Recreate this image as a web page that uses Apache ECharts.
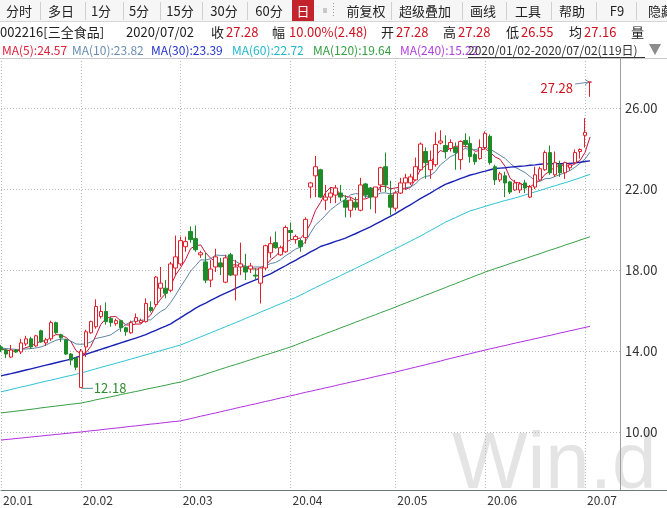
<!DOCTYPE html>
<html><head><meta charset="utf-8">
<script src="https://cdn.jsdelivr.net/npm/echarts@6/dist/echarts.min.js"></script>
<style>html,body{margin:0;padding:0;background:#fff;overflow:hidden}#c{width:667px;height:508px}</style>
</head><body><div id="c"></div>
<script>
// ---------------- data ----------------
const tradeDays = {
  '01': [2,3,6,7,8,9,10,13,14,15,16,17,20,21,22,23],
  '02': [3,4,5,6,7,10,11,12,13,14,17,18,19,20,21,24,25,26,27,28],
  '03': [2,3,4,5,6,9,10,11,12,13,16,17,18,19,20,23,24,25,26,27,30,31],
  '04': [1,2,3,7,8,9,10,13,14,15,16,17,20,21,22,23,24,27,28,29,30],
  '05': [6,7,8,11,12,13,14,15,18,19,20,21,22,25,26,27,28,29],
  '06': [1,2,3,4,5,8,9,10,11,12,15,16,17,18,19,22,23,24,29,30],
  '07': [1,2]
};
const openP = [14.2,14.05,13.7,14.05,13.95,14.35,14.6,14.25,15.0,14.4,14.6,15.4,14.8,14.55,13.85,13.65,12.2,14.2,14.9,15.2,
  15.7,15.95,15.6,15.35,15.5,15.15,14.9,15.45,15.4,15.45,16.15,16.3,17.1,17.1,17.0,18.1,18.3,19.15,19.9,19.55,
  18.75,18.4,17.5,18.15,18.35,17.4,18.75,17.75,18.15,18.15,18.05,17.75,17.35,18.1,18.85,19.35,18.75,18.9,19.95,19.5,
  19.45,19.6,22.1,22.65,22.95,21.45,21.6,21.7,21.8,21.45,20.95,21.35,20.95,22.25,22.05,21.6,22.2,23.1,21.7,21.05,
  21.8,22.3,22.3,22.45,22.95,23.85,22.95,23.2,24.27,24.15,24.0,24.05,23.45,24.4,24.25,23.7,23.5,24.05,24.6,23.1,
  22.45,22.65,22.35,21.95,21.95,22.3,21.6,22.1,22.45,22.95,23.8,22.7,23.2,22.8,23.05,23.3,23.85,24.65,27.28];
const closeP = [14.05,13.85,14.05,13.95,14.4,14.6,14.2,14.75,14.45,14.55,15.4,14.9,14.65,13.85,13.55,13.2,14.0,14.95,15.45,16.2,
  15.95,15.45,15.4,15.5,15.15,14.95,15.4,15.65,15.5,16.35,16.0,17.65,17.35,16.85,18.3,18.65,19.45,19.4,19.5,19.0,
  18.85,17.5,18.05,18.65,18.15,18.6,17.75,18.15,18.3,17.9,18.2,17.7,18.1,19.2,19.3,19.1,19.1,20.1,19.85,19.65,
  19.15,20.5,22.3,23.1,21.6,21.6,21.8,22.05,21.6,21.1,21.45,21.1,22.2,21.7,21.6,22.1,23.05,22.2,21.1,21.8,
  22.3,22.55,22.6,23.1,24.22,23.3,23.4,24.2,24.37,23.85,24.3,23.8,24.35,24.2,23.6,23.35,24.05,24.75,23.3,22.45,
  22.75,22.3,21.85,22.3,22.25,22.05,22.1,22.7,23.0,23.8,22.8,23.3,22.8,23.3,23.2,23.8,23.95,24.8,27.28];
const lowP = [13.95,13.65,13.65,13.9,13.85,14.25,14.1,14.2,14.4,14.25,14.5,14.85,14.45,13.8,13.3,13.05,12.18,13.7,14.85,15.1,
  15.6,15.3,15.2,15.25,14.95,14.75,14.85,15.35,15.35,15.4,15.9,16.2,16.65,16.6,16.9,17.75,18.2,18.9,19.35,18.9,
  18.6,17.35,17.15,17.9,17.75,17.35,17.7,16.5,17.75,17.5,17.85,17.55,16.35,18.0,18.6,19.05,18.7,18.85,19.5,19.3,
  18.9,19.3,21.55,21.6,21.55,20.96,21.3,21.3,21.4,20.6,20.6,20.95,20.9,21.55,21.0,20.8,21.85,21.85,20.7,20.9,
  21.75,21.95,22.2,22.4,22.9,22.5,22.5,23.1,24.2,23.5,23.85,22.95,22.95,24.05,23.3,23.2,23.45,23.95,23.2,22.2,
  22.35,21.6,21.75,21.9,21.8,21.8,21.55,22.0,22.4,22.9,22.7,22.6,22.6,22.5,22.9,23.2,23.5,24.05,26.55];
const highP = [14.3,14.1,14.3,14.1,14.6,14.75,14.7,14.8,15.05,14.65,15.5,15.45,14.85,14.6,13.9,13.7,14.1,15.05,15.5,16.55,
  16.25,16.4,15.7,15.6,15.55,15.2,15.5,15.85,15.6,16.6,16.45,17.7,18.15,17.5,18.4,19.7,19.65,19.65,20.15,20.2,
  18.95,18.85,18.5,19.05,18.6,18.75,18.85,18.5,19.35,18.8,18.35,18.1,18.15,19.25,19.65,19.9,19.2,20.2,20.35,19.75,
  19.55,20.6,22.35,23.63,23.0,22.2,22.1,22.2,22.2,21.7,21.6,21.6,22.55,22.3,22.1,22.1,23.1,23.8,22.4,21.9,
  22.55,22.75,22.75,23.55,24.3,24.05,23.9,24.8,24.9,24.65,24.45,24.3,24.4,24.75,24.6,23.8,24.45,24.85,24.7,23.2,
  22.85,22.85,22.4,22.45,22.35,22.45,22.2,23.1,23.1,23.9,24.15,23.85,23.4,23.35,23.3,23.95,24.0,25.5,27.28];
const ma5 = [14.1,14.05,14.0,14.0,14.06,14.17,14.24,14.38,14.48,14.51,14.67,14.81,14.79,14.67,14.47,14.03,13.85,13.91,14.23,14.76,
  15.31,15.6,15.69,15.7,15.49,15.29,15.28,15.33,15.33,15.57,15.78,16.23,16.57,16.84,17.23,17.76,18.12,18.53,19.06,19.2,
  19.24,18.85,18.58,18.41,18.24,18.19,18.24,18.26,18.19,18.14,18.06,18.05,18.04,18.22,18.5,18.68,18.96,19.36,19.49,19.56,
  19.57,19.85,20.29,20.94,21.33,21.82,22.08,22.03,21.73,21.63,21.6,21.46,21.49,21.51,21.61,21.74,22.13,22.13,22.01,22.05,
  22.09,21.99,22.07,22.47,22.95,23.15,23.32,23.64,23.9,23.82,24.02,24.1,24.13,24.1,24.05,23.86,23.91,23.99,23.81,23.58,
  23.46,23.11,22.53,22.33,22.29,22.15,22.11,22.28,22.42,22.73,22.88,23.12,23.14,23.2,23.08,23.28,23.41,23.81,24.57];
const ma10 = [14.15,14.12,14.1,14.08,14.08,14.1,14.12,14.15,14.2,14.29,14.42,14.53,14.59,14.58,14.49,14.35,14.33,14.35,14.45,14.62,
  14.67,14.73,14.8,14.97,15.13,15.3,15.44,15.51,15.52,15.53,15.54,15.76,15.95,16.09,16.4,16.77,17.18,17.55,17.95,18.22,
  18.5,18.49,18.56,18.74,18.72,18.72,18.55,18.42,18.3,18.19,18.13,18.15,18.15,18.21,18.32,18.37,18.51,18.7,18.86,19.03,
  19.13,19.41,19.83,20.22,20.45,20.7,20.97,21.16,21.34,21.48,21.71,21.77,21.76,21.62,21.62,21.67,21.8,21.81,21.76,21.83,
  21.92,22.06,22.1,22.24,22.5,22.62,22.66,22.86,23.19,23.39,23.59,23.71,23.89,24.0,23.94,23.94,24.01,24.06,23.96,23.82,
  23.66,23.51,23.26,23.07,22.94,22.81,22.61,22.41,22.38,22.51,22.52,22.62,22.71,22.81,22.91,23.08,23.27,23.48,23.82];
const ma30 = [12.77,12.83,12.88,12.94,13.0,13.06,13.12,13.18,13.24,13.3,13.36,13.42,13.48,13.54,13.6,13.68,13.76,13.84,13.92,14.0,
  14.08,14.16,14.24,14.32,14.4,14.48,14.56,14.64,14.72,14.81,14.92,15.02,15.13,15.23,15.34,15.5,15.65,15.81,15.96,16.12,
  16.25,16.37,16.5,16.62,16.75,16.86,16.97,17.09,17.2,17.31,17.41,17.51,17.61,17.71,17.81,17.94,18.08,18.21,18.35,18.48,
  18.62,18.75,18.89,19.02,19.16,19.24,19.32,19.41,19.49,19.57,19.68,19.79,19.91,20.02,20.13,20.26,20.39,20.52,20.65,20.78,
  20.93,21.08,21.22,21.37,21.52,21.66,21.8,21.95,22.09,22.23,22.32,22.41,22.51,22.6,22.69,22.75,22.82,22.88,22.95,23.01,
  23.03,23.05,23.08,23.1,23.12,23.14,23.17,23.19,23.22,23.24,23.24,23.25,23.25,23.26,23.26,23.29,23.32,23.36,23.39];
const ma60 = [11.98,12.04,12.1,12.16,12.22,12.27,12.33,12.39,12.45,12.51,12.56,12.62,12.68,12.74,12.79,12.85,12.91,12.98,13.05,13.12,
  13.19,13.26,13.32,13.39,13.46,13.53,13.6,13.67,13.74,13.81,13.88,13.95,14.02,14.09,14.16,14.23,14.3,14.4,14.5,14.6,
  14.7,14.8,14.9,15.0,15.1,15.2,15.3,15.4,15.5,15.61,15.71,15.81,15.92,16.02,16.12,16.23,16.33,16.43,16.54,16.64,
  16.76,16.88,17.01,17.13,17.25,17.37,17.49,17.6,17.72,17.84,17.96,18.08,18.2,18.32,18.44,18.56,18.68,18.81,18.93,19.05,
  19.17,19.3,19.42,19.55,19.67,19.81,19.95,20.08,20.22,20.36,20.47,20.58,20.7,20.81,20.92,20.99,21.07,21.14,21.22,21.29,
  21.36,21.43,21.49,21.56,21.63,21.71,21.78,21.86,21.93,22.01,22.09,22.16,22.24,22.31,22.39,22.47,22.55,22.64,22.72];
const ma120 = [10.94,10.97,11.0,11.03,11.06,11.09,11.12,11.15,11.19,11.22,11.25,11.28,11.31,11.34,11.37,11.4,11.43,11.48,11.53,11.59,
  11.64,11.69,11.74,11.79,11.85,11.9,11.95,12.0,12.05,12.11,12.16,12.21,12.26,12.31,12.37,12.42,12.47,12.55,12.63,12.71,
  12.78,12.86,12.94,13.02,13.1,13.18,13.26,13.33,13.41,13.49,13.57,13.65,13.73,13.81,13.88,13.96,14.04,14.12,14.2,14.29,
  14.39,14.48,14.58,14.67,14.76,14.86,14.95,15.04,15.14,15.23,15.32,15.42,15.51,15.61,15.7,15.79,15.89,15.98,16.07,16.17,
  16.27,16.36,16.46,16.55,16.65,16.75,16.84,16.94,17.03,17.13,17.23,17.32,17.42,17.52,17.61,17.71,17.8,17.9,17.98,18.07,
  18.15,18.23,18.32,18.4,18.48,18.56,18.65,18.73,18.81,18.9,18.98,19.06,19.14,19.23,19.31,19.39,19.48,19.56,19.64];
const ma240 = [9.6,9.63,9.65,9.68,9.7,9.73,9.75,9.78,9.8,9.83,9.85,9.88,9.9,9.93,9.95,9.98,10.0,10.03,10.06,10.08,
  10.11,10.14,10.17,10.19,10.22,10.25,10.28,10.3,10.33,10.36,10.39,10.41,10.44,10.47,10.5,10.52,10.55,10.61,10.66,10.72,
  10.78,10.83,10.89,10.94,11.0,11.06,11.11,11.17,11.23,11.28,11.34,11.39,11.45,11.51,11.56,11.62,11.68,11.73,11.79,11.84,
  11.9,11.96,12.01,12.07,12.12,12.18,12.23,12.29,12.35,12.4,12.46,12.51,12.57,12.62,12.68,12.74,12.79,12.85,12.9,12.96,
  13.02,13.08,13.14,13.2,13.26,13.32,13.38,13.44,13.5,13.57,13.63,13.69,13.75,13.81,13.87,13.93,13.99,14.05,14.11,14.16,
  14.22,14.27,14.33,14.39,14.44,14.5,14.55,14.61,14.66,14.72,14.77,14.83,14.89,14.94,15.0,15.05,15.11,15.16,15.22];
const yTicks = [10, 14, 18, 22, 26];
const toolbarItems = ['分时','多日','1分','5分','15分','30分','60分','日','前复权','超级叠加','画线','工具','帮助','F9','隐藏'];
const infoLabels = ['收','幅','开','高','低','均'];
const infoValues = ['27.28','10.00%(2.48)','27.28','27.28','26.55','27.16'];
const maNames = ['MA(5)','MA(10)','MA(30)','MA(60)','MA(120)','MA(240)'];
const maLast = ['24.57','23.82','23.39','22.72','19.64','15.22'];
const stockTitle = '002216[三全食品]';
const curDate = '2020/07/02';
const rangeText = '2020/01/02-2020/07/02(119日)';

// ---------------- build ----------------
const categories = [];
const monthStart = {};
Object.keys(tradeDays).forEach(m => {
  monthStart[categories.length] = '20.' + m;
  tradeDays[m].forEach(d => categories.push('2020/' + m + '/' + String(d).padStart(2, '0')));
});
const N = categories.length;
for (let k = 0; k < 6; k++) categories.push('pad' + k);
const candleData = openP.map((o, i) => [o, closeP[i], lowP[i], highP[i]]);

const FONT = '"Noto Sans CJK SC","Microsoft YaHei",sans-serif';
const maColors = ['#c8143c','#5d84a6','#1a22b4','#2cc3d3','#36a046','#b02ee0'];
const legendColors = ['#e0203c','#6a8db0','#2233cc','#22b8cc','#33a043','#b040e0'];

const chart = echarts.init(document.getElementById('c'), null, {width: 667, height: 508});
const lineSeries = [ma5, ma10, ma30, ma60, ma120, ma240].map((d, k) => ({
  type: 'line', name: maNames[k], data: d, showSymbol: false, symbol: 'none', silent: true,
  lineStyle: {color: maColors[k], width: k === 2 ? 1.4 : 1}, z: 3, animation: false
}));

chart.setOption({
  animation: false,
  backgroundColor: '#ffffff',
  grid: {left: 0, right: 47, top: 58, bottom: 18, containLabel: false},
  xAxis: {
    type: 'category', data: categories, boundaryGap: false,
    axisLine: {show: true, lineStyle: {color: '#6c7878', width: 1}},
    axisTick: {show: false},
    axisLabel: {
      interval: (i) => monthStart[i] !== undefined,
      formatter: (v, i) => monthStart[i] || '',
      align: 'left', margin: 4, color: '#333', fontSize: 12, fontFamily: FONT, padding: [0, 0, 0, 2]
    },
    splitLine: {show: true, interval: (i) => monthStart[i] !== undefined,
      lineStyle: {color: '#b8b8b8', type: [1, 2], width: 1}}
  },
  yAxis: {
    type: 'value', position: 'right', min: 7.136, max: 28.469, scale: true,
    axisLine: {show: true, lineStyle: {color: '#a0a0a0'}},
    axisTick: {show: false, customValues: yTicks},
    axisLabel: {customValues: yTicks, formatter: v => v.toFixed(2), color: '#333', fontSize: 13, margin: 5, fontFamily: FONT},
    splitLine: {show: true, lineStyle: {color: '#b8b8b8', type: [1, 2], width: 1}}
  },
  series: [{
    type: 'candlestick', data: candleData, barWidth: 4, silent: true, z: 4,
    itemStyle: {color: '#ffffff', color0: '#1e8c2a', borderColor: '#e0202a', borderColor0: '#1e8c2a', borderWidth: 1}
  }].concat(lineSeries)
});

// ---------------- header + annotations ----------------
const g = [];
function txt(x, y, text, fill, size, extra) {
  g.push(Object.assign({type: 'text', x: x, y: y, silent: true,
    style: Object.assign({text: text, fill: fill, font: size + 'px ' + FONT, align: 'left', verticalAlign: 'middle'}, (extra || {}))}, {}));
}
function ln(x1, y1, x2, y2, color, w, extra) {
  g.push(Object.assign({type: 'line', silent: true, shape: {x1, y1, x2, y2}, style: {stroke: color, lineWidth: w || 1}}, extra || {}));
}
// toolbar
g.push({type: 'rect', silent: true, shape: {x: 0, y: 0, width: 667, height: 21}, style: {fill: '#f6f6f6'}, z: -5});
ln(0, 21.5, 667, 21.5, '#d6d6d6');
const tbCenters = [19, 61, 101, 139, 180, 224, 269, 303, 366, 425, 483, 528, 572, 617, 661];
const tbSeps = [40, 85, 123, 160, 202, 247, 391, 462, 506, 551, 596, 636];
tbSeps.forEach(x => ln(x + 0.5, 2, x + 0.5, 20, '#d0d0d0'));
g.push({type: 'rect', silent: true, shape: {x: 292, y: 0, width: 22, height: 21}, style: {fill: '#c4232b'}});
g.push({type: 'rect', silent: true, shape: {x: 323, y: 8, width: 4, height: 5}, style: {fill: '#c8c8c8'}});
ln(333.5, 3, 333.5, 18, '#9a9a9a', 1, {style: {stroke: '#9a9a9a', lineWidth: 1, lineDash: [1, 2]}});
toolbarItems.forEach((t, k) => txt(tbCenters[k], 11, t, k === 7 ? '#ffffff' : '#222222', 13, {align: 'center'}));
// info row
txt(0, 32, stockTitle, '#222', 13);
txt(126, 32, curDate, '#222', 13);
const infoLX = [211, 272, 381, 443, 506, 569];
const infoVX = [226, 289, 396, 458, 521, 584];
infoLabels.forEach((t, k) => { txt(infoLX[k], 32, t, '#222', 13); txt(infoVX[k], 32, infoValues[k], '#d0101e', 13); });
txt(631, 32, '量', '#222', 13);
// MA legend row
const maX = [2, 72, 151, 232, 313, 400];
maNames.forEach((t, k) => txt(maX[k], 50, t + ':' + maLast[k], legendColors[k], 12));
txt(468, 50, rangeText, '#333', 12);
ln(468, 57.5, 645, 57.5, '#333');
g.push({type: 'polygon', silent: true, shape: {points: [[649, 44], [661, 44], [655, 55]]}, style: {fill: '#8c8c8c'}});
ln(0, 58.5, 667, 58.5, '#c8c8c8');
// x axis extension to the right edge
ln(620, 490.5, 667, 490.5, '#6c7878');
// watermark
g.push({type: 'text', silent: true, x: 452, y: 506, z: -10,
  style: {text: 'Win.d', fill: '#e4e4e4', font: '80px "Liberation Sans",Arial,sans-serif', align: 'left', verticalAlign: 'bottom'}});
// annotations through the chart's own scales
const hi = chart.convertToPixel({gridIndex: 0}, [categories[N - 1], Math.max(...highP)]);
const loIdx = lowP.indexOf(Math.min(...lowP));
const lo = chart.convertToPixel({gridIndex: 0}, [categories[loIdx], lowP[loIdx]]);
txt(hi[0] - 17, hi[1] + 6, highP[N - 1].toFixed(2), '#d0101e', 13, {align: 'right'});
ln(hi[0] - 15, hi[1] + 2, hi[0] - 1, hi[1], '#6a8db0');
ln(hi[0] - 5, hi[1] - 2.5, hi[0] - 1, hi[1], '#6a8db0');
ln(hi[0] - 5, hi[1] + 2.5, hi[0] - 1, hi[1], '#6a8db0');
ln(lo[0] + 1, lo[1] + 0.5, lo[0] + 12, lo[1] + 0.5, '#4f8fa0');
txt(lo[0] + 13, lo[1], Math.min(...lowP).toFixed(2), '#2e8b2e', 13);

chart.setOption({graphic: {elements: g}});
</script></body></html>
